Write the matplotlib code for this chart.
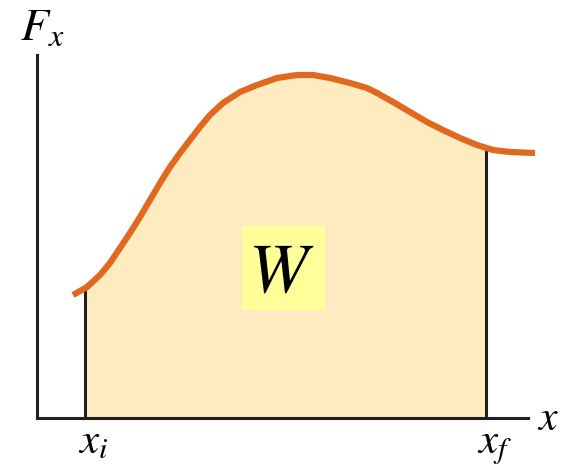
import numpy as np
import matplotlib
matplotlib.use("Agg")
import matplotlib.pyplot as plt
from matplotlib.patches import Rectangle

plt.rcParams['mathtext.fontset'] = 'stix'

# curve F_x(x) (chart units, origin at the axes corner)
x_vals = [36, 50, 63, 73, 83, 93, 103, 113, 123, 133, 143, 153, 163, 173, 186,
          203, 220, 240, 260, 276, 293, 313, 330, 340, 356, 373, 390, 406, 423,
          440, 456, 473, 498]
f_vals = [123, 131, 143, 155, 170, 185, 201, 218, 235, 251, 265, 278, 291, 303,
          315, 326, 333, 340, 343, 343, 340, 335, 330, 325, 316, 306, 296, 288,
          280, 273, 268, 266, 265]
x_i = 48
x_f = 449

x_vals = np.array(x_vals)
f_vals = np.array(f_vals)

orange = '#e0691f'
fill_col = '#feecc0'
box_col = '#ffff9a'
dark = '#231f20'

fig = plt.figure(figsize=(5.61, 4.69), dpi=100)
ax = fig.add_axes([37 / 561, 51 / 469, 491 / 561, 363 / 469])
ax.set_xlim(0, 491)
ax.set_ylim(0, 363)

# shaded work area between x_i and x_f
inside = (x_vals > x_i) & (x_vals < x_f)
xs = np.concatenate([[x_i], x_vals[inside], [x_f]])
ys = np.interp(xs, x_vals, f_vals)
ax.fill_between(xs, 0, ys, color=fill_col, lw=0, zorder=1)

ax.plot([x_i, x_i], [0, ys[0]], color=dark, lw=2.2, zorder=2)
ax.plot([x_f, x_f], [0, ys[-1]], color=dark, lw=2.2, zorder=2)

ax.plot(x_vals, f_vals, color=orange, lw=4.5, solid_capstyle='butt',
        solid_joinstyle='round', clip_on=False, zorder=3)

# W label
ax.add_patch(Rectangle((205, 108), 83, 84, color=box_col, lw=0, zorder=2))
ax.text(244, 126, r'$W$', fontsize=51, ha='center', va='baseline', zorder=4)

# axis labels
ax.text(-17, 378, r'$F_x$', fontsize=33, ha='left', va='baseline', clip_on=False)
ax.text(500, -12, r'$x$', fontsize=30, ha='left', va='baseline', clip_on=False)
ax.text(41, -35, r'$x_i$', fontsize=31, ha='left', va='baseline', clip_on=False)
ax.text(440, -35, r'$x_f$', fontsize=31, ha='left', va='baseline', clip_on=False)

for s in ['top', 'right']:
    ax.spines[s].set_visible(False)
for s in ['left', 'bottom']:
    ax.spines[s].set_color(dark)
    ax.spines[s].set_linewidth(2.2)
ax.set_xticks([])
ax.set_yticks([])
ax.patch.set_alpha(0)

fig.savefig('out.png', dpi=100)
